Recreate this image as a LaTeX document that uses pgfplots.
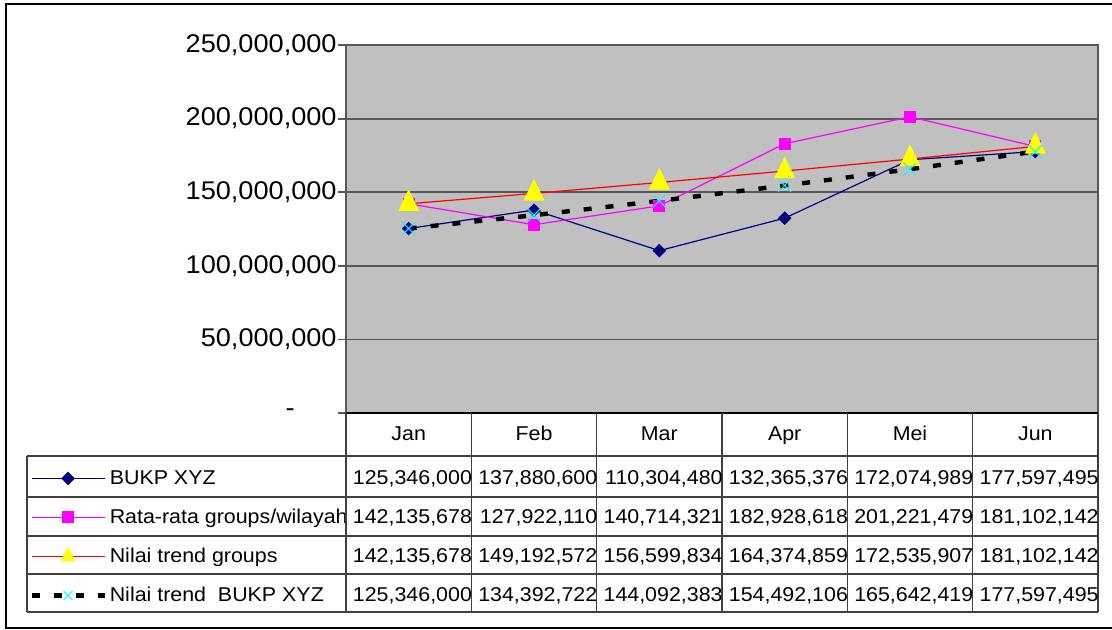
\documentclass[border=0pt]{standalone}
\usepackage{fontspec}
\setmainfont{Liberation Sans}[FakeStretch=1.06]
\newfontfamily\tablefont{Liberation Sans}[FakeStretch=1.07]
\usepackage{pgfplots}
\pgfplotsset{compat=1.18}
\definecolor{plotbg}{HTML}{C0C0C0}
\definecolor{gridc}{HTML}{585858}
\definecolor{navyc}{HTML}{000080}
\definecolor{magc}{HTML}{FF00FF}
\definecolor{redc}{HTML}{FF0000}
\definecolor{yelc}{HTML}{FFFF00}
\definecolor{cyanc}{HTML}{00FFFF}
\definecolor{tline}{HTML}{404040}
\begin{document}
\begin{tikzpicture}
\path[use as bounding box] (0,0) rectangle (556pt,-315pt);
\draw[black, line width=1pt] (556pt,-2.25pt) -- (3pt,-2.25pt) -- (3pt,-313.75pt) -- (556pt,-313.75pt);
\begin{axis}[
  at={(173pt,-206.5pt)}, anchor=south west,
  scale only axis, width=376pt, height=184pt,
  xmin=0.5, xmax=6.5, ymin=0, ymax=250000000,
  axis background/.style={fill=plotbg},
  axis line style={draw=gridc, line width=0.9pt},
  ymajorgrids, major grid style={draw=gridc, line width=0.9pt},
  xtick={1,2,3,4,5,6}, xticklabels={Jan,Feb,Mar,Apr,Mei,Jun},
  xtick style={draw=none},
  xticklabel style={font=\tablefont\fontsize{10pt}{12pt}\selectfont, yshift=-3.2pt},
  ytick={0,50000000,100000000,150000000,200000000,250000000},
  yticklabels={{-\hspace*{21pt}},{50,000,000},{100,000,000},{150,000,000},{200,000,000},{250,000,000}},
  ytick align=outside, ytick pos=left, major tick length=4pt,
  ytick style={draw=gridc, line width=0.9pt},
  yticklabel style={font=\fontsize{12.8pt}{14pt}\selectfont, inner sep=0.5pt},
  scaled y ticks=false,
  /pgf/number format/assume math mode=true,
  legend style={at={(-0.42154,-0.14402)}, anchor=north west, draw=none, fill=none,
    inner sep=0pt, row sep=7.5pt, column sep=1.5pt,
    nodes={inner sep=0pt, text height=9pt, text depth=3pt, font=\tablefont\fontsize{10pt}{12pt}\selectfont}},
  legend cell align=left,
  legend image code/.code={\draw[mark repeat=2,mark phase=2] plot coordinates {(0pt,0pt)(18.25pt,0pt)(36.5pt,0pt)};},
]
\addplot[navyc, line width=0.6pt, mark=square*, mark size=2.1pt, mark options={rotate=45, fill=navyc, draw=navyc}]
  coordinates {(1,125346000) (2,137880600) (3,110304480) (4,132365376) (5,172074989) (6,177597495)};
\addlegendentry{BUKP XYZ}
\addplot[magc, line width=0.6pt, mark=square*, mark size=2.7pt, mark options={fill=magc, draw=magc}]
  coordinates {(1,142135678) (2,127922110) (3,140714321) (4,182928618) (5,201221479) (6,181102142)};
\addlegendentry{Rata-rata groups/wilayah}
\addplot[redc, line width=0.6pt, mark=triangle*, mark size=5.5pt, mark options={fill=yelc, draw=yelc, yscale=1.2},
  legend image post style={every mark/.append style={scale=0.65}}]
  coordinates {(1,142135678) (2,149192572) (3,156599834) (4,164374859) (5,172535907) (6,181102142)};
\addlegendentry{Nilai trend groups}
\addplot[black, line width=2.2pt, dash pattern=on 4pt off 7pt, mark=x, mark size=4.5pt, mark options={draw=cyanc, solid, line width=0.5pt},
  legend image post style={every mark/.append style={scale=0.7}}]
  coordinates {(1,125346000) (2,134392722) (3,144092383) (4,154492106) (5,165642419) (6,177597495)};
\addlegendentry{Nilai trend~ BUKP XYZ}
\end{axis}
% x axis line
\draw[black, line width=1pt] (173pt,-206.5pt) -- (549pt,-206.5pt);
% data table grid
\begin{scope}[line width=0.8pt]
  \foreach \k in {0,...,6} \draw[tline] ({173pt+\k*62.6667pt},-206.5pt) -- ({173pt+\k*62.6667pt},-306pt);
  \foreach \yy in {-228pt,-248.5pt,-268pt,-287pt,-306pt} \draw[tline] (13.5pt,\yy) -- (549pt,\yy);
  \draw[tline] (13.5pt,-228pt) -- (13.5pt,-306pt);
\end{scope}
% data table values
\begin{scope}[every node/.style={anchor=base east, inner sep=0pt, font=\tablefont\fontsize{10pt}{12pt}\selectfont}]
  \foreach \v [count=\k] in {{125,346,000},{137,880,600},{110,304,480},{132,365,376},{172,074,989},{177,597,495}}
    \node at ({173.5pt+\k*62.6667pt},-242pt) {\v};
  \foreach \v [count=\k] in {{142,135,678},{127,922,110},{140,714,321},{182,928,618},{201,221,479},{181,102,142}}
    \node at ({173.5pt+\k*62.6667pt},-261.5pt) {\v};
  \foreach \v [count=\k] in {{142,135,678},{149,192,572},{156,599,834},{164,374,859},{172,535,907},{181,102,142}}
    \node at ({173.5pt+\k*62.6667pt},-281.25pt) {\v};
  \foreach \v [count=\k] in {{125,346,000},{134,392,722},{144,092,383},{154,492,106},{165,642,419},{177,597,495}}
    \node at ({173.5pt+\k*62.6667pt},-300.5pt) {\v};
\end{scope}
\end{tikzpicture}
\end{document}
